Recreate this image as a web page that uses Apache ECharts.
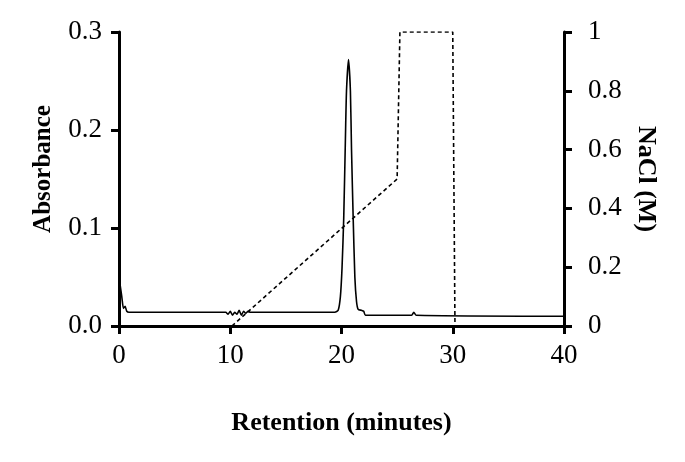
<!DOCTYPE html>
<html>
<head>
<meta charset="utf-8">
<script src="https://cdn.jsdelivr.net/npm/echarts@6/dist/echarts.min.js"></script>
<style>
  html, body { margin: 0; padding: 0; background: #fff; }
  #board { width: 685px; height: 462px; }
</style>
</head>
<body>
<div id="board"></div>
<script>
// absorbance trace (minutes, AU)
var absTime = [0.1, 0.25, 0.4, 0.55, 0.7, 0.9, 9.6, 9.8, 10.0, 10.2, 10.4, 10.6, 10.8, 11.0, 11.2, 11.4, 11.6, 11.8,
  19.4, 19.7, 19.9, 20.05, 20.2, 20.35, 20.45, 20.63, 20.8, 20.9, 21.05, 21.2, 21.35, 21.5, 21.8, 22.0, 22.15,
  26.3, 26.5, 26.7, 40];
var absValue = [0.042, 0.03, 0.018, 0.02, 0.015, 0.014, 0.014, 0.012, 0.015, 0.011, 0.014, 0.012, 0.016, 0.011, 0.015, 0.013, 0.015, 0.014,
  0.014, 0.016, 0.03, 0.06, 0.11, 0.19, 0.24, 0.272, 0.24, 0.18, 0.11, 0.05, 0.025, 0.017, 0.016, 0.015, 0.011,
  0.011, 0.014, 0.011, 0.010];

// NaCl gradient (minutes, M)
var naclTime = [10.15, 25.0, 25.25, 30.0, 30.2];
var naclValue = [0, 0.5, 1, 1, 0];

var leftTicks = ["0.0", "0.1", "0.2", "0.3"];

function pairs(xs, ys) {
  return xs.map(function (x, i) { return [x, ys[i]]; });
}

var serif = "Liberation Serif";
var axisLine = { show: true, lineStyle: { color: "#000", width: 3 } };
var axisTick = { show: true, inside: false, length: 8, lineStyle: { color: "#000", width: 3 } };

var options = {
  animation: false,
  grid: { left: 119, right: 121, top: 32, bottom: 136, outerBoundsMode: "none", containLabel: false },
  xAxis: {
    type: "value",
    min: 0, max: 40, interval: 10,
    name: "Retention (minutes)",
    nameLocation: "middle",
    nameGap: 84,
    nameTextStyle: { fontFamily: serif, fontWeight: "bold", fontSize: 26, color: "#000" },
    axisLine: axisLine,
    axisTick: axisTick,
    splitLine: { show: false },
    axisLabel: { fontFamily: serif, fontSize: 27, color: "#000", margin: 16 }
  },
  yAxis: [
    {
      type: "value",
      min: 0, max: 0.3, interval: 0.1,
      name: "Absorbance",
      nameLocation: "middle",
      nameGap: 63,
      nameTextStyle: { fontFamily: serif, fontWeight: "bold", fontSize: 25, color: "#000", padding: [0, 0, 0, 20] },
      axisLine: axisLine,
      axisTick: axisTick,
      splitLine: { show: false },
      axisLabel: {
        fontFamily: serif, fontSize: 27, color: "#000", margin: 17,
        formatter: function (v) { return leftTicks[Math.round(v * 10)]; }
      }
    },
    {
      type: "value",
      position: "right",
      min: 0, max: 1, interval: 0.2,
      name: "NaCl (M)",
      nameLocation: "middle",
      nameGap: 67,
      nameRotate: -90,
      nameTextStyle: { fontFamily: serif, fontWeight: "bold", fontSize: 26, color: "#000" },
      axisLine: axisLine,
      axisTick: axisTick,
      splitLine: { show: false },
      axisLabel: { fontFamily: serif, fontSize: 27, color: "#000", margin: 24 }
    }
  ],
  series: [
    {
      name: "Absorbance",
      type: "line",
      yAxisIndex: 0,
      data: pairs(absTime, absValue),
      showSymbol: false,
      smooth: 0.2,
      lineStyle: { color: "#000", width: 1.6 }
    },
    {
      name: "NaCl",
      type: "line",
      yAxisIndex: 1,
      data: pairs(naclTime, naclValue),
      showSymbol: false,
      lineStyle: { color: "#000", width: 1.6, type: [4, 3] }
    }
  ]
};

var myChart = echarts.init(document.getElementById("board"));
myChart.setOption(options);
</script>
</body>
</html>
